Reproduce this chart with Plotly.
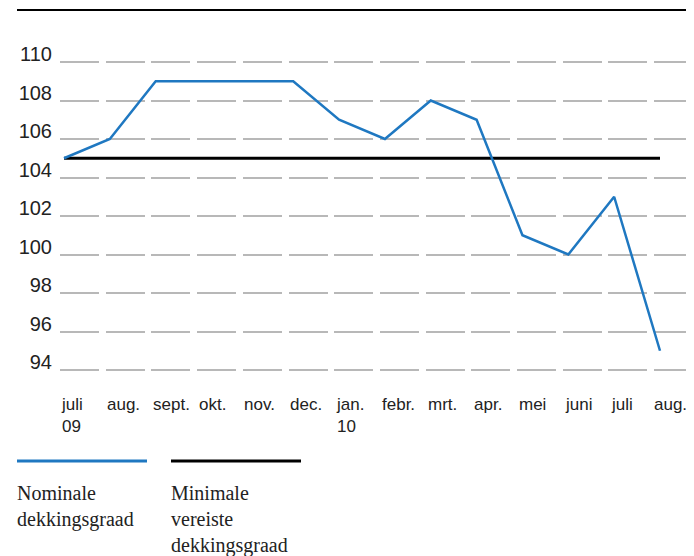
import plotly.graph_objects as go

months = ["juli", "aug.", "sept.", "okt.", "nov.", "dec.", "jan.", "febr.", "mrt.", "apr.", "mei", "juni", "juli", "aug."]
years = ["09", "", "", "", "", "", "10", "", "", "", "", "", "", ""]
nominale = [105, 106, 109, 109, 109, 109, 107, 106, 108, 107, 101, 100, 103, 95]
minimale = [105] * len(months)
y_ticks = [94, 96, 98, 100, 102, 104, 106, 108, 110]
legend_names = ["Nominale<br>dekkingsgraad", "Minimale<br>vereiste<br>dekkingsgraad"]

OFF = 8  # page body margin in the viewer
W, H = 694 - 2 * OFF, 556 - OFF
L, R, T = 60 - OFF, 0, 30 - OFF
B = H - (380 - OFF)
PW, PH = W - L - R, H - T - B

def px_x(px):
    return (px - OFF - L) / PW

def px_y(py):
    return (H - B - (py - OFF)) / PH

idx = list(range(len(months)))

fig = go.Figure()
fig.add_trace(go.Scatter(x=idx, y=minimale, mode="lines",
                         line=dict(color="#000000", width=3), hoverinfo="skip"))
fig.add_trace(go.Scatter(x=idx, y=nominale, mode="lines",
                         line=dict(color="#1f78c1", width=2.5)))

label_font = dict(family="Liberation Sans, Arial, sans-serif", size=17, color="#222222")
tick_font = dict(family="Liberation Sans, Arial, sans-serif", size=20, color="#222222")
annotations = []
n = len(months)
for i, (m, yr) in enumerate(zip(months, years)):
    text = m + ("<br>" + yr if yr else "")
    annotations.append(dict(x=i, y=px_y(393), xref="x", yref="paper", text=text,
                            showarrow=False, xanchor="left", yanchor="top", align="left",
                            xshift=-5 if i < n - 1 else -8, font=label_font))

serif = dict(family="Liberation Serif, Times New Roman, serif", size=20, color="#222222")
annotations.append(dict(x=px_x(15), y=px_y(480), xref="paper", yref="paper", text=legend_names[0],
                        showarrow=False, xanchor="left", yanchor="top", align="left", font=serif))
annotations.append(dict(x=px_x(169), y=px_y(480), xref="paper", yref="paper", text=legend_names[1],
                        showarrow=False, xanchor="left", yanchor="top", align="left", font=serif))

shapes = [
    dict(type="line", xref="paper", yref="paper", x0=px_x(17), x1=1.0, y0=px_y(10), y1=px_y(10),
         line=dict(color="#000000", width=2)),
    dict(type="line", xref="paper", yref="paper", x0=px_x(17), x1=px_x(147), y0=px_y(461), y1=px_y(461),
         line=dict(color="#1f78c1", width=3)),
    dict(type="line", xref="paper", yref="paper", x0=px_x(171), x1=px_x(301), y0=px_y(461), y1=px_y(461),
         line=dict(color="#000000", width=3)),
]

step = (660 - 64) / 13.0
right_px = OFF + W
fig.update_layout(
    width=W, height=H,
    margin=dict(l=L, r=R, t=T, b=B),
    paper_bgcolor="white", plot_bgcolor="white",
    showlegend=False,
    xaxis=dict(range=[-(64 - 60) / step, 13 + (right_px - 660) / step], showgrid=False, zeroline=False,
               showticklabels=False, ticks="", showline=False, fixedrange=True),
    yaxis=dict(range=[94 - 10 / 19.25, 110 + 32 / 19.25], tickvals=y_ticks,
               ticktext=[str(v) for v in y_ticks],
               showgrid=True, gridcolor="#b8b8b8", gridwidth=1.5, griddash="39px,6.7px",
               zeroline=False, showline=False, ticks="",
               ticklabelstandoff=7, ticklabelshift=-8,
               tickfont=tick_font, fixedrange=True),
    annotations=annotations,
    shapes=shapes,
)

fig.write_html("out.html")
